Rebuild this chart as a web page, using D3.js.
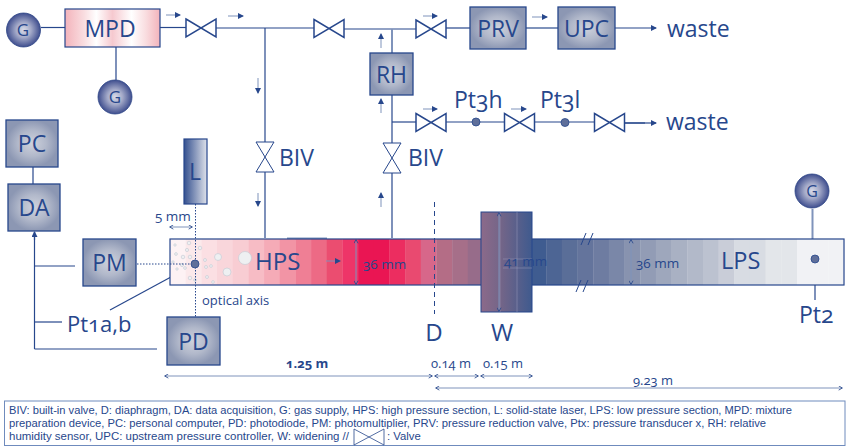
<!DOCTYPE html>
<html>
<head>
<meta charset="utf-8">
<script src="https://cdn.jsdelivr.net/npm/d3@7"></script>
<style>
  html, body { margin: 0; padding: 0; background: #fff; }
  text { font-family: "Open Sans", "Noto Sans", sans-serif; fill: #27478c; font-feature-settings: "onum" 1; }
  text.caption { font-family: "Liberation Sans Narrow", "Liberation Sans", sans-serif; }
</style>
</head>
<body>
<div id="chart"></div>
<script>
// colours of the tube, left to right, one per band
const tubeColors = ["#fdf2f4","#fbe9eb","#fbdfe3","#f9d6db","#f8cdd3","#f7bcc5","#f5abb7","#f294a5","#ef7f95","#ed6a85","#eb4d70","#ee3568","#ea1553","#ea1553","#ec2d60","#e94a70","#d7678a","#b46d86","#a66f89","#976c8a","#80668a","#6b628a","#55608c","#3f5c90","#4d6594","#5a6e98","#64749c","#6e7ca1","#7a87a8","#8893af","#929cb5","#9ea7bc","#a9b1c3","#b2b9c9","#bcc2d0","#c9cdd8","#d8dce3","#d8dce3","#e3e6ea","#e3e6ea","#f1f2f5","#f1f2f5","#f1f2f5"];

// labelled boxes
const boxLabels = ["PRV", "UPC", "RH", "PC", "DA", "PM", "PD"];
const boxPlaces = [[470,7,56,42], [558,7,57,42], [370,53,43,42], [6,120,52,47], [8,184,52,47], [83,239,53,47], [167,317,53,48]];

// gas supplies
const gasPlaces = [[23.5,30], [115,97], [812,191]];

// valves: x, y of the centre
const hValves = [[201,28], [329,28.5], [431,29], [431,122.5], [519.5,122.5], [609.5,122.5]];
const vValves = [[265,157], [392,158]];

// thin pipes and thick pale pipes
const pipes = [[41,27.5,65,27.5],[116,47,116,80],[160,27.5,186,27.5],[216,28,314,28],[344,29,416,29],[446,28,470,28],
  [265,28,265,142],[265,172,265,238],[392,95,392,143],[392,173,392,238],[392,122,416,122],[446,122,504,122],
  [535,122,594,122],[33,167,33,184],[34.5,232,34.5,349],[34.5,266,75,266],[34.5,322,62,322],[34.5,349,157,349],
  [815,265,815,300],[195,264,110,310]];
const palePipes = [[526,28,558,28],[392,29,392,53],[625,123,645,123],[812.5,209,812.5,239],[287,238.5,327,238.5]];

// arrow lines that end in a head
const endArrows = [[615,28,656,28],[625,123,656,123],[34.5,240,34.5,232]];
const flowArrows = [[166,15,180,15],[228,16,243,16],[423,16,437,16],[532,17,547,17],[423,109,437,109],[511,109,526,109],
  [258,78,258,93],[258,193,258,206],[381,48,381,34],[381,113,381,99],[381,207,381,193],[326,261,340,261]];

// dimension arrows, both ends
const dimArrows = [[170,227,192,227],[356,240,356,284],[631,240,631,284],[499,213,499,311],[165,376,432,376],[435,376,478,376],[481,376,532,376],[436,388,842,388]];

// pressure transducers
const sensors = [[195,264],[476,122],[565,122.5],[815,259]];

// particles near the ignition point
const bubbles = [[245,258,6.5],[218,257,3.5],[227,272,4],[189,243,1.8],[200,248,1.8],[187,250,1.6],[183,257,1.8],[190,257,1.8],[176,254,1.4],[182,265,1.6],[177,269,1.2],[185,268,1.4],[190,278,1.8],[195,280,1.4],[206,267,1.5],[211,266,1.4],[207,277,1.5],[213,282,1.4],[175,245,1.2],[173,262,1.2],[205,260,1.5]];

// free text: label, x, baseline, size
const labels = [["MPD",110,37,23,"middle"],["G",23,36,17,"middle"],["G",115,103,17,"middle"],["G",812,197,16,"middle"],
  ["L",195,180,23,"middle"],["waste",667,37,23,"start"],["waste",666,130,23,"start"],["Pt3h",454,108,23,"start"],["Pt3l",540,108,23,"start"],
  ["BIV",279,166,23,"start"],["BIV",408,166,23,"start"],["HPS",255,270,24,"start"],["LPS",721,269,23.5,"start"],
  ["Pt1a,b",67,332,22,"start"],["Pt2",799,323,23,"start"],["D",434,341,24,"middle"],["W",502,341,24,"middle"],
  ["optical axis",202,305,13,"start"],["5 mm",155,221,13.5,"start"],["36 mm",363,269,13.5,"start"],["41 mm",504,266,13.5,"start"],["36 mm",636,268,13.5,"start"],
  ["0.14 m",431,368,13,"start"],["0.15 m",483,368,13,"start"],["9.23 m",633,385,13,"start"]];

const captionLines = [
  "BIV: built-in valve, D: diaphragm, DA: data acquisition, G: gas supply, HPS: high pressure section, L: solid-state laser, LPS: low pressure section, MPD: mixture",
  "preparation device, PC: personal computer, PD: photodiode, PM: photomultiplier, PRV: pressure reduction valve, Ptx: pressure transducer x, RH: relative",
  "humidity sensor, UPC: upstream pressure controller, W: widening //"
];

const ink = "#27478c", pale = "#7f93bb";

const svg = d3.select("#chart").append("svg").attr("width", 846).attr("height", 446).style("display", "block");
const defs = svg.append("defs");

// gradients
function radial(id, stops) {
  const g = defs.append("radialGradient").attr("id", id);
  stops.forEach(s => g.append("stop").attr("offset", s[0]).attr("stop-color", s[1]));
}
function linear(id, stops) {
  const g = defs.append("linearGradient").attr("id", id);
  stops.forEach(s => g.append("stop").attr("offset", s[0]).attr("stop-color", s[1]));
}
radial("boxFill", [[0, "#ced2dd"], [0.55, "#b1b8ca"], [1, "#8c97b3"]]);
radial("gasFill", [[0, "#d8dbe8"], [0.45, "#a3a9c8"], [1, "#3f4e8e"]]);
linear("laserFill", [[0, "#34508f"], [1, "#dfe2ea"]]);
linear("mpdFill", [[0, "#f3b3bb"], [0.2, "#f9dde0"], [0.33, "#fff"], [0.5, "#f6c9cf"], [0.7, "#fff"], [0.85, "#f9dde0"], [1, "#f3b3bb"]]);
linear("widenFill", [[0, "#8c6a8a"], [0.4, "#736588"], [1, "#3f5a8e"]]);

const arrowHead = defs.append("marker").attr("id", "head").attr("viewBox", "0 0 6 6").attr("refX", 5).attr("refY", 3)
  .attr("markerWidth", 6).attr("markerHeight", 6).attr("markerUnits", "userSpaceOnUse").attr("orient", "auto-start-reverse");
arrowHead.append("path").attr("d", "M0,0L6,3L0,6Z").attr("fill", ink);
const openHead = defs.append("marker").attr("id", "open").attr("viewBox", "0 0 6 6").attr("refX", 5).attr("refY", 3)
  .attr("markerWidth", 5).attr("markerHeight", 5).attr("markerUnits", "userSpaceOnUse").attr("orient", "auto-start-reverse");
openHead.append("path").attr("d", "M1,0.5L5.5,3L1,5.5").attr("fill", "none").attr("stroke", ink);

function drawLines(rows, stroke, width) {
  return svg.append("g").selectAll("line").data(rows).join("line")
    .attr("x1", d => d[0]).attr("y1", d => d[1]).attr("x2", d => d[2]).attr("y2", d => d[3])
    .attr("stroke", stroke).attr("stroke-width", width);
}

// pipes go under everything
drawLines(pipes, ink, 1.2);
drawLines(palePipes, pale, 2);

// tube
const tubeX = d3.scaleBand().domain(d3.range(tubeColors.length)).range([170, 844]);
svg.append("g").selectAll("rect").data(tubeColors).join("rect")
  .attr("x", (d, i) => tubeX(i)).attr("y", 239).attr("width", tubeX.bandwidth() + 0.3).attr("height", 46).attr("fill", d => d);
svg.append("rect").attr("x", 170).attr("y", 239).attr("width", 674).attr("height", 46)
  .attr("fill", "none").attr("stroke", ink).attr("stroke-width", 1.2);

// widening
svg.append("rect").attr("x", 481).attr("y", 212).attr("width", 51).attr("height", 100)
  .attr("fill", "url(#widenFill)").attr("stroke", ink).attr("stroke-width", 1);
drawLines([[500,212,500,312],[517,212,517,312],[503,259,532,259],[503,268,532,268]], "#a8a8c4", 0.7).attr("opacity", 0.6);

// break marks on the tube
drawLines([[581,245,586,233],[588,245,593,233],[576,292,581,280],[583,292,588,280]], ink, 1);

// bubbles
svg.append("g").selectAll("circle").data(bubbles).join("circle")
  .attr("cx", d => d[0]).attr("cy", d => d[1]).attr("r", d => d[2])
  .attr("fill", "#eef0f2").attr("stroke", "#c9cdd5").attr("stroke-width", 0.7);

// optical axis and diaphragm
drawLines([[195.5,204,195.5,317],[137,264,195,264]], ink, 1).attr("stroke-dasharray", "1.5 1.5");
drawLines([[434.5,202,434.5,314]], ink, 1).attr("stroke-dasharray", "5 4");

// boxes
svg.append("rect").attr("x", 65).attr("y", 9).attr("width", 95).attr("height", 38)
  .attr("fill", "url(#mpdFill)").attr("stroke", ink).attr("stroke-width", 1.2);
svg.append("rect").attr("x", 184).attr("y", 139).attr("width", 23).attr("height", 65)
  .attr("fill", "url(#laserFill)").attr("stroke", ink).attr("stroke-width", 1.2);

const boxes = svg.append("g").selectAll("g").data(boxLabels).join("g");
boxes.append("rect")
  .attr("x", (d, i) => boxPlaces[i][0]).attr("y", (d, i) => boxPlaces[i][1])
  .attr("width", (d, i) => boxPlaces[i][2]).attr("height", (d, i) => boxPlaces[i][3])
  .attr("fill", "url(#boxFill)").attr("stroke", ink).attr("stroke-width", 1.3);
boxes.append("text").text(d => d)
  .attr("x", (d, i) => boxPlaces[i][0] + boxPlaces[i][2] / 2)
  .attr("y", (d, i) => boxPlaces[i][1] + boxPlaces[i][3] / 2 + 8.5)
  .attr("text-anchor", "middle").attr("font-size", 23);

// gas supplies
svg.append("g").selectAll("circle").data(gasPlaces).join("circle")
  .attr("cx", d => d[0]).attr("cy", d => d[1]).attr("r", 17)
  .attr("fill", "url(#gasFill)").attr("stroke", "#2f4688").attr("stroke-width", 0.8);

// valves
svg.append("g").selectAll("path.h").data(hValves).join("path").attr("class", "h")
  .attr("transform", d => `translate(${d[0]},${d[1]})`)
  .attr("d", "M-15,-9L15,9L15,-9L-15,9Z")
  .attr("fill", "#fff").attr("stroke", ink).attr("stroke-width", 1.5);
svg.append("g").selectAll("path.v").data(vValves).join("path").attr("class", "v")
  .attr("transform", d => `translate(${d[0]},${d[1]})`)
  .attr("d", "M-9,-15L9,15L-9,15L9,-15Z")
  .attr("fill", "#fff").attr("stroke", ink).attr("stroke-width", 1);

// sensors
svg.append("g").selectAll("circle").data(sensors).join("circle")
  .attr("cx", d => d[0]).attr("cy", d => d[1]).attr("r", 4)
  .attr("fill", "#5f6f9a").attr("stroke", ink).attr("stroke-width", 0.8);

// arrows
drawLines(endArrows, ink, 1.2).attr("marker-end", "url(#head)");
drawLines(flowArrows, pale, 1).attr("marker-end", "url(#head)");
drawLines(dimArrows, pale, 1).attr("marker-start", "url(#open)").attr("marker-end", "url(#open)");

// text
svg.append("g").selectAll("text").data(labels).join("text")
  .attr("x", d => d[1]).attr("y", d => d[2]).attr("font-size", d => d[3]).attr("text-anchor", d => d[4]).text(d => d[0]);
svg.append("text").attr("x", 286).attr("y", 368).attr("font-size", 13).attr("font-weight", 700).text("1.25 m");

// caption
svg.append("rect").attr("x", 4.5).attr("y", 401).attr("width", 840.5).attr("height", 44.5)
  .attr("fill", "#fff").attr("stroke", "#6f8bbd").attr("stroke-width", 1);
const captionWidths = [783, 757, 340];
svg.append("g").selectAll("text").data(captionLines).join("text").attr("class", "caption")
  .attr("x", 9).attr("y", (d, i) => 414 + i * 13).attr("font-size", 11.3)
  .attr("textLength", (d, i) => captionWidths[i]).attr("lengthAdjust", "spacingAndGlyphs").text(d => d);
svg.append("path").attr("d", "M354,429L384,445L384,429L354,445Z").attr("fill", "none").attr("stroke", ink).attr("stroke-width", 0.8);
svg.append("text").attr("class", "caption").attr("x", 387).attr("y", 440).attr("font-size", 11.3).text(": Valve");
</script>
</body>
</html>
